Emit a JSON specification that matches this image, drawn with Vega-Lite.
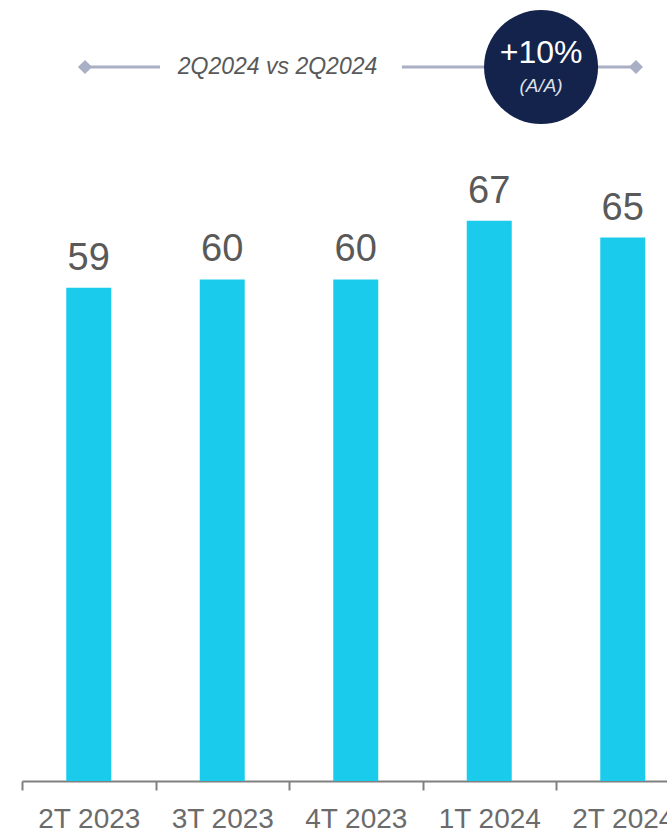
{
  "$schema": "https://vega.github.io/schema/vega-lite/v6.json",
  "autosize": "none",
  "width": 667.5,
  "height": 781,
  "padding": {"left": 22, "top": 0, "right": 0, "bottom": 50},
  "background": "white",
  "config": {"view": {"stroke": null}, "font": "Liberation Sans"},
  "datasets": {
    "bars": [
      {"q": "2T 2023", "v": 59},
      {"q": "3T 2023", "v": 60},
      {"q": "4T 2023", "v": 60},
      {"q": "1T 2024", "v": 67},
      {"q": "2T 2024", "v": 65}
    ],
    "segs": [
      {"u": 0.472, "u2": 1.034, "y": 85.4},
      {"u": 2.846, "u2": 4.599, "y": 85.4}
    ],
    "diamonds": [
      {"u": 0.472, "y": 85.4},
      {"u": 4.599, "y": 85.4}
    ],
    "header": [{"u": 1.914, "y": 85.4, "t": "2Q2024 vs 2Q2024"}],
    "circle": [{"u": 3.888, "y": 85.4}],
    "pct": [{"u": 3.888, "y": 85.9, "t": "+10%"}],
    "aa": [{"u": 3.888, "y": 82.4, "t": "(A/A)"}]
  },
  "resolve": {"scale": {"x": "independent"}, "axis": {"x": "independent"}},
  "layer": [
    {
      "data": {"name": "bars"},
      "mark": {"type": "bar", "color": "#1bcbeb", "width": {"band": 0.337}},
      "encoding": {
        "x": {
          "field": "q", "type": "nominal", "sort": null,
          "scale": {"paddingInner": 0, "paddingOuter": 0},
          "axis": {
            "title": null, "tickBand": "extent", "domainColor": "#808080", "domainWidth": 2,
            "tickColor": "#808080", "tickWidth": 2, "tickSize": 9, "labelAngle": 0,
            "labelFontSize": 28, "labelColor": "#6b6b6b", "labelPadding": 15, "labelFont": "Liberation Sans"
          }
        },
        "y": {"field": "v", "type": "quantitative", "scale": {"domain": [0, 93.42], "nice": false, "zero": true}, "axis": null}
      }
    },
    {
      "data": {"name": "bars"},
      "mark": {"type": "text", "fontSize": 38, "color": "#595959", "baseline": "alphabetic", "dy": -18},
      "encoding": {
        "x": {"field": "q", "type": "nominal", "sort": null, "scale": {"paddingInner": 0, "paddingOuter": 0}, "axis": null},
        "y": {"field": "v", "type": "quantitative"},
        "text": {"field": "v", "type": "quantitative"}
      }
    },
    {
      "data": {"name": "segs"},
      "mark": {"type": "rule", "color": "#a9b0c6", "strokeWidth": 3},
      "encoding": {
        "x": {"field": "u", "type": "quantitative", "scale": {"domain": [0, 5], "nice": false, "zero": false}, "axis": null},
        "x2": {"field": "u2"},
        "y": {"field": "y", "type": "quantitative"}
      }
    },
    {
      "data": {"name": "diamonds"},
      "mark": {"type": "point", "shape": "diamond", "filled": true, "color": "#a9b0c6", "size": 200, "opacity": 1},
      "encoding": {
        "x": {"field": "u", "type": "quantitative", "scale": {"domain": [0, 5], "nice": false, "zero": false}, "axis": null},
        "y": {"field": "y", "type": "quantitative"}
      }
    },
    {
      "data": {"name": "header"},
      "mark": {"type": "text", "fontSize": 23, "fontStyle": "italic", "color": "#595959", "baseline": "middle"},
      "encoding": {
        "x": {"field": "u", "type": "quantitative", "scale": {"domain": [0, 5], "nice": false, "zero": false}, "axis": null},
        "y": {"field": "y", "type": "quantitative"},
        "text": {"field": "t"}
      }
    },
    {
      "data": {"name": "circle"},
      "mark": {"type": "point", "shape": "circle", "filled": true, "color": "#14234b", "size": 13000, "opacity": 1},
      "encoding": {
        "x": {"field": "u", "type": "quantitative", "scale": {"domain": [0, 5], "nice": false, "zero": false}, "axis": null},
        "y": {"field": "y", "type": "quantitative"}
      }
    },
    {
      "data": {"name": "pct"},
      "mark": {"type": "text", "fontSize": 32, "color": "white", "baseline": "alphabetic"},
      "encoding": {
        "x": {"field": "u", "type": "quantitative", "scale": {"domain": [0, 5], "nice": false, "zero": false}, "axis": null},
        "y": {"field": "y", "type": "quantitative"},
        "text": {"field": "t"}
      }
    },
    {
      "data": {"name": "aa"},
      "mark": {"type": "text", "fontSize": 19, "fontStyle": "italic", "color": "#dde0ea", "baseline": "alphabetic"},
      "encoding": {
        "x": {"field": "u", "type": "quantitative", "scale": {"domain": [0, 5], "nice": false, "zero": false}, "axis": null},
        "y": {"field": "y", "type": "quantitative"},
        "text": {"field": "t"}
      }
    }
  ]
}
